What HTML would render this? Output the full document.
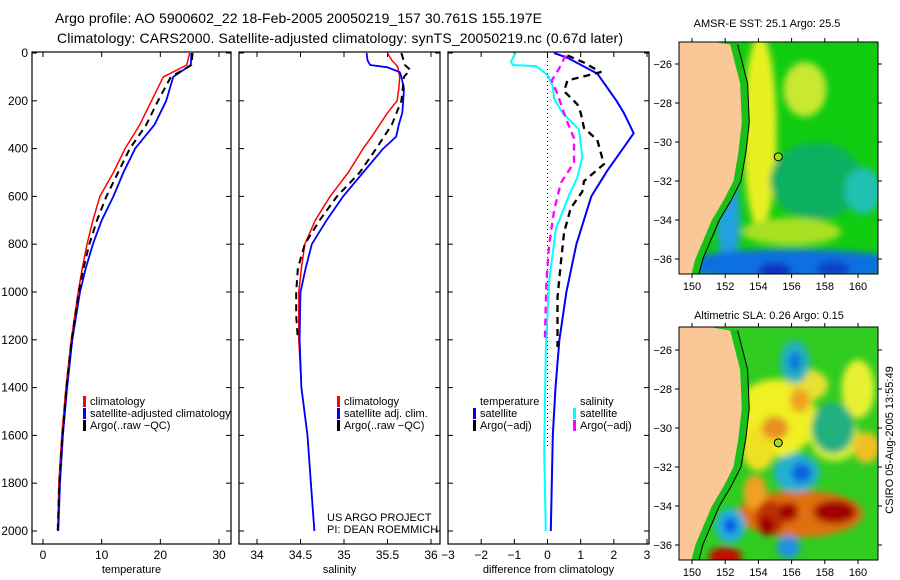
<!DOCTYPE html>
<html><head><meta charset="utf-8"><style>
html,body{margin:0;padding:0;background:#fff;}
svg{display:block;font-family:"Liberation Sans",sans-serif;}
</style></head><body>
<svg id="s" width="900" height="580" viewBox="0 0 900 580" xmlns="http://www.w3.org/2000/svg">
<defs>
<filter id="bl" x="-50%" y="-50%" width="200%" height="200%"><feGaussianBlur stdDeviation="3.5"/></filter>
<clipPath id="c1"><rect x="679" y="42" width="199" height="232"/></clipPath>
<clipPath id="c2"><rect x="679" y="327" width="199" height="233"/></clipPath>
</defs>
<text x="55" y="23" font-size="14" textLength="487">Argo profile: AO 5900602_22 18-Feb-2005 20050219_157 30.761S 155.197E</text>
<text x="57" y="43" font-size="14" textLength="566">Climatology: CARS2000. Satellite-adjusted climatology: synTS_20050219.nc (0.67d later)</text>
<text x="767" y="27" font-size="11" text-anchor="middle">AMSR-E SST: 25.1 Argo: 25.5</text>
<text x="769" y="319" font-size="11" text-anchor="middle">Altimetric SLA: 0.26 Argo: 0.15</text>
<text transform="translate(893,440) rotate(-90)" font-size="11" text-anchor="middle">CSIRO 05-Aug-2005 13:55:49</text>
<g id="root"></g>
</svg>
<script>
// ---- data ----
const tDepth=[0,50,100,200,300,400,500,600,700,800,900,1000,1200,1400,1600,1800,2000];
const tClim=[25,24.5,20.5,18.5,16.5,14,12,9.7,8.5,7.5,6.7,6,4.8,3.9,3.2,2.7,2.5];
const tSat=[25.3,25.2,22.2,21,19,15.7,13.7,12,10,8.5,7.3,6.3,5,4.1,3.4,2.9,2.6];
const aDepth=[0,50,100,200,300,400,500,600,700,800,900,1000,1200,1400,1600,1800,2000];
const tArgo=[25.5,25.3,21.8,19.6,17.6,14.8,12.8,10.8,9.2,7.9,6.9,6.1,4.9,4,3.3,2.8,2.5];
const sDepth=[0,30,50,60,80,100,150,200,250,300,350,400,500,600,700,800,900,1000,1200,1400,1600,1800,2000];
const sClim=[35.5,35.55,35.6,35.62,35.63,35.64,35.63,35.61,35.5,35.41,35.32,35.22,35.05,34.84,34.67,34.55,34.51,34.48,34.48,34.51,34.58,34.62,34.66];
const sSat=[35.26,35.27,35.3,35.5,35.64,35.66,35.69,35.68,35.67,35.63,35.6,35.45,35.22,34.99,34.8,34.63,34.56,34.5,34.49,34.51,34.58,34.62,34.66];
const sArgoDepth=[0,50,70,100,200,300,400,500,600,700,800,900,1000,1100,1200];
const sArgo=[35.66,35.7,35.76,35.69,35.66,35.55,35.37,35.18,34.92,34.72,34.55,34.47,34.45,34.45,34.47];
const dtSatDepth=[0,20,86,200,250,336,493,600,800,1000,1200,1400,1600,2000];
const dtSat=[0.2,0.6,1.5,2.08,2.3,2.6,1.8,1.32,0.87,0.57,0.36,0.24,0.16,0.1];
const dtArgoDepth=[10,40,80,115,160,215,250,314,364,465,536,580,650,750,880,1023,1230];
const dtArgo=[0.6,1.1,1.6,0.6,0.5,0.9,1.0,1.1,1.5,1.7,1.1,1.05,0.7,0.5,0.4,0.3,0.3];
const dsSatDepth=[0,35,50,55,92,134,190,250,320,436,521,594,737,952,1238,1668,2000];
const dsSat=[-0.96,-1.1,-1.05,-0.35,0,0.15,0.2,0.45,0.95,1.05,0.9,0.65,0.25,0.05,-0.05,-0.1,-0.05];
const dsArgoDepth=[10,65,115,172,272,357,458,544,659,802,946,1210];
const dsArgo=[0.55,0.35,0.13,0.3,0.55,0.8,0.8,0.4,0.2,0.05,-0.03,-0.08];
const depthTicks=[0,200,400,600,800,1000,1200,1400,1600,1800,2000];
const tTicks=[0,10,20,30];
const sTicks=[34,34.5,35,35.5,36];
const dTicks=[-3,-2,-1,0,1,2,3];

const NS='http://www.w3.org/2000/svg';
const root=document.getElementById('root');
function mk(tag,attrs,parent){const e=document.createElementNS(NS,tag);for(const k in attrs)e.setAttribute(k,attrs[k]);(parent||root).appendChild(e);return e;}
const Y=d=>53+d*0.239;
const FB=544;
const panels=[
 {x0:32,x1:231,v0:0,v1:30,a:43,b:219,ticks:tTicks,label:'temperature',name:'temperature-panel'},
 {x0:239,x1:440,v0:34,v1:36,a:257,b:431,ticks:sTicks,label:'salinity',name:'salinity-panel'},
 {x0:448,x1:649,v0:-3,v1:3,a:448,b:647,ticks:dTicks,label:'difference from climatology',name:'difference-panel'}];
panels.forEach((p,i)=>{
 p.X=v=>p.a+(v-p.v0)*(p.b-p.a)/(p.v1-p.v0);
 const g=mk('g',{});
 
 
 p.g=g;
 const fr=mk('rect',{x:p.x0,y:52,width:p.x1-p.x0,height:FB-52,fill:'none',stroke:'#000','stroke-width':1.2},g);
 
 
 p.ticks.forEach(t=>{const x=p.X(t);
  mk('line',{x1:x,x2:x,y1:FB,y2:FB-5,stroke:'#000'},g);mk('line',{x1:x,x2:x,y1:52,y2:57,stroke:'#000'},g);
  const tx=mk('text',{x:x,y:559,'font-size':12,'text-anchor':'middle'},g);
  
  
  tx.textContent=String(t).replace('-','\u2212');});
 depthTicks.forEach(d=>{const y=Y(d);
  mk('line',{x1:p.x0,x2:p.x0+5,y1:y,y2:y,stroke:'#000'},g);mk('line',{x1:p.x1,x2:p.x1-5,y1:y,y2:y,stroke:'#000'},g);
  if(i===0){const tx=mk('text',{x:28,y:y+4,'font-size':12,'text-anchor':'end'},g);
   
   
   tx.textContent=d;}});
 const xl=mk('text',{x:(p.x0+p.x1)/2,y:573,'font-size':11,'text-anchor':'middle'},g);
 
 
 xl.textContent=p.label;
});
function line(p,ds,vs,col,w,dash,name){
 const pts=vs.map((v,k)=>p.X(v).toFixed(1)+','+Y(ds[k]).toFixed(1)).join(' ');
 const e=mk('polyline',{points:pts,fill:'none',stroke:col,'stroke-width':w,'stroke-dasharray':dash||'none','stroke-linejoin':'round'},p.g);
 
 
}
const [P1,P2,P3]=panels;
line(P1,tDepth,tClim,'#f00',1.5,null,'temperature-climatology-line');
line(P1,tDepth,tSat,'#00f',1.8,null,'temperature-satellite-line');
line(P1,aDepth,tArgo,'#000',2,'7,5','temperature-argo-line');
line(P2,sDepth,sClim,'#f00',1.5,null,'salinity-climatology-line');
line(P2,sDepth,sSat,'#00f',1.8,null,'salinity-satellite-line');
line(P2,sArgoDepth,sArgo,'#000',2,'7,5','salinity-argo-line');
const z=mk('line',{x1:P3.X(0),x2:P3.X(0),y1:53,y2:Y(1650),stroke:'#000','stroke-dasharray':'1,3'},P3.g);


line(P3,dtSatDepth,dtSat,'#00f',2,null,'temp-diff-satellite-line');
line(P3,dtArgoDepth,dtArgo,'#000',2.3,'7,5','temp-diff-argo-line');
line(P3,dsSatDepth,dsSat,'#0ff',2,null,'sal-diff-satellite-line');
line(P3,dsArgoDepth,dsArgo,'#f0f',2.3,'7,5','sal-diff-argo-line');
function leg(x,y,col,txt,g){
 const e=mk('g',{},g);
 
 
 if(col)mk('rect',{x:x,y:y-9,width:3,height:11,fill:col},e);
 const t=mk('text',{x:x+7,y:y,'font-size':11},e);t.textContent=txt;}
leg(83,405,'#f00','climatology',P1.g);leg(83,417,'#00f','satellite-adjusted climatology',P1.g);leg(83,429,'#000','Argo(..raw \u2212QC)',P1.g);
leg(337,405,'#f00','climatology',P2.g);leg(337,417,'#00f','satellite adj. clim.',P2.g);leg(337,429,'#000','Argo(..raw \u2212QC)',P2.g);
leg(473,405,null,'temperature',P3.g);leg(473,417,'#00f','satellite',P3.g);leg(473,429,'#000','Argo(\u2212adj)',P3.g);
leg(573,405,null,'salinity',P3.g);leg(573,417,'#0ff','satellite',P3.g);leg(573,429,'#f0f','Argo(\u2212adj)',P3.g);
const cr=mk('text',{x:327,y:521,'font-size':11},P2.g);cr.innerHTML='<tspan x="327">US ARGO PROJECT</tspan><tspan x="327" dy="12">PI: DEAN ROEMMICH</tspan>';



// ---- maps ----
const coast=[[152.3,-25],[152.9,-27],[153.0,-29],[152.8,-30.5],[152.5,-32],[151.9,-33],[151.2,-34],[150.7,-35],[150.2,-36],[149.9,-37]];
const latTicks=[-26,-28,-30,-32,-34,-36];
const lonTicks=[150,152,154,156,158,160];
const blobsSST=[[154.1,-29.5,1.0,5,'#e8f020'],[156.8,-27.3,1.3,1.4,'#c8e830'],[157.5,-32,2.8,2,'#10b060'],[160.3,-32.5,1.1,1.2,'#20c0b0'],[156,-34.6,3,0.7,'#a8e020'],[152.2,-34,0.7,2.5,'#20a0e0'],[156,-36.3,7,0.8,'#1070e0'],[155,-36.6,1,0.4,'#1030c0'],[158.5,-36.5,1,0.4,'#1040c8']];
const blobsSLA=[[155,-29.5,2.5,2,'#f0f020'],[154,-31,1,1.2,'#f0e020'],[158.6,-30.5,1.5,1.2,'#d8f030'],[160.5,-31,0.8,0.8,'#f0c020'],[157,-27.8,1.2,0.8,'#e8e030'],[160,-28,1,1.5,'#e8f030'],[158.5,-30,1.3,1.3,'#20b080'],[155,-30,0.8,0.6,'#e89020'],[156.5,-28.6,0.6,0.6,'#f0a020'],[156.5,-34.4,3.8,1.2,'#e07010'],[153.8,-33.3,0.7,0.9,'#f0a020'],[156.2,-26.6,0.9,1.1,'#20b0c0'],[156.2,-26.6,0.35,0.5,'#1070e0'],[156.3,-32.3,1.4,1,'#20b0d0'],[156.6,-32.3,0.6,0.5,'#1060e0'],[154.7,-34.6,0.9,0.9,'#c03000'],[154.5,-35,0.5,0.5,'#a00000'],[155.8,-34.3,0.6,0.5,'#a00000'],[158.6,-34.3,1.3,0.6,'#a00000'],[152.3,-35,0.9,0.9,'#20b0e0'],[152.3,-35,0.4,0.4,'#1050e0'],[155.8,-36.1,0.7,0.6,'#2090e0'],[152,-36.6,1,0.5,'#c01000']];
function map(top,base,blobs,clip,name){
 const g=mk('g',{});
 
 
 const X=l=>692+(l-150)*16.6, Yl=la=>top+(-26-la)*19.5;
 const h=clip==='c1'?232:233, y0=clip==='c1'?42:327;
 const cg=mk('g',{'clip-path':'url(#'+clip+')'},g);
 mk('rect',{x:679,y:y0,width:199,height:h,fill:base},cg);
 const bg=mk('g',{filter:'url(#bl)'},cg);
 blobs.forEach(b=>mk('ellipse',{cx:X(b[0]),cy:Yl(b[1]),rx:b[2]*16.6,ry:b[3]*19.5,fill:b[4]},bg));
 const shelf=coast.map(c=>X(c[0]+0.45)+','+Yl(c[1])).join(' ');
 mk('polygon',{points:'679,'+(y0-5)+' '+coast.map(c=>X(c[0]+0.45)+','+Yl(c[1])).join(' ')+' 679,'+(y0+h+5),fill:'#18c018'},cg);
 const land=mk('polygon',{points:'679,'+(y0-5)+' '+coast.map(c=>X(c[0])+','+Yl(c[1])).join(' ')+' 679,'+(y0+h+5),fill:'#fac896'},cg);
 
 
 mk('polyline',{points:shelf,fill:'none',stroke:'#000','stroke-width':1},cg);
 mk('rect',{x:679,y:y0,width:199,height:h,fill:'none',stroke:'#000'},g);
 latTicks.forEach(la=>{const y=Yl(la);mk('line',{x1:679,x2:675,y1:y,y2:y,stroke:'#000'},g);mk('line',{x1:878,x2:882,y1:y,y2:y,stroke:'#000'},g);
  const t=mk('text',{x:672,y:y+4,'font-size':11,'text-anchor':'end'},g);
  
  
  t.textContent='\u2212'+(-la);});
 lonTicks.forEach(lo=>{const x=X(lo);mk('line',{x1:x,x2:x,y1:y0+h,y2:y0+h+4,stroke:'#000'},g);mk('line',{x1:x,x2:x,y1:y0,y2:y0-4,stroke:'#000'},g);
  const t=mk('text',{x:x,y:y0+h+16,'font-size':11,'text-anchor':'middle'},g);
  
  
  t.textContent=lo;});
 const m=mk('circle',{cx:X(155.197),cy:Yl(-30.761),r:4,fill:'#a0e020',stroke:'#000','stroke-width':1},g);
 
 
}
map(64,'#10cc10',blobsSST,'c1','sst-map');
map(350,'#30cc20',blobsSLA,'c2','sla-map');
</script>
</body></html>
